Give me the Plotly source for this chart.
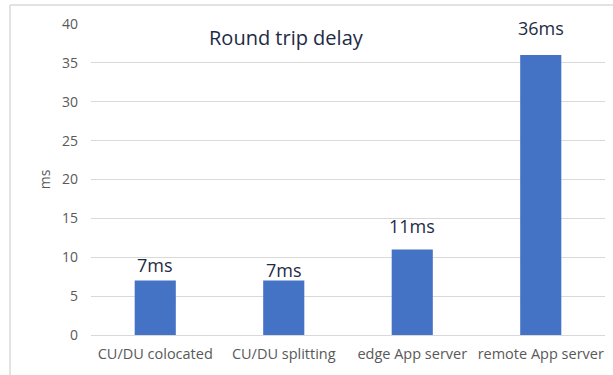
import plotly.graph_objects as go

categories = ["CU/DU colocated", "CU/DU splitting", "edge App server", "remote App server"]
delays_ms = [7, 7, 11, 36]
labels = ["7ms", "7ms", "11ms", "36ms"]
y_ticks = [0, 5, 10, 15, 20, 25, 30, 35, 40]

label_shift = [16, 11, 23, 27]

fig = go.Figure()
fig.add_trace(go.Bar(x=categories, y=delays_ms, marker=dict(color="#4472C4", line=dict(width=0)),
                     hoverinfo="x+y"))

for c, v, t, s in zip(categories, delays_ms, labels, label_shift):
    fig.add_annotation(x=c, y=v, text=t, showarrow=False, yshift=s,
                       xanchor="center", yanchor="middle",
                       font=dict(family="Open Sans", size=18, color="#1e2b45"))

fig.add_annotation(xref="paper", yref="paper", x=0.381, y=0.958, text="Round trip delay",
                   showarrow=False, xanchor="center", yanchor="middle",
                   font=dict(family="Open Sans", size=20, color="#1e2b45"))

# outer frame (top and left edges)
fig.add_shape(type="line", xref="paper", yref="paper", x0=-0.1576, x1=1.02, y0=1.061, y1=1.061,
              line=dict(color="#d9d9d9", width=1.5))
fig.add_shape(type="line", xref="paper", yref="paper", x0=-0.1576, x1=-0.1576, y0=-0.2, y1=1.061,
              line=dict(color="#d9d9d9", width=1.5))

fig.update_layout(
    width=613, height=375,
    margin=dict(l=91, r=8, t=24, b=40, autoexpand=False),
    paper_bgcolor="white", plot_bgcolor="white",
    bargap=0.68,
    showlegend=False,
    font=dict(family="Open Sans", color="#595959", size=14),
)
fig.update_xaxes(showgrid=False, showline=True, linecolor="#d9d9d9", linewidth=1, automargin=False,
                 ticks="", ticklabelstandoff=6, tickfont=dict(size=14.5, color="#595959"))
fig.update_yaxes(range=[0, 40], tickvals=y_ticks, showgrid=True, gridcolor="#d9d9d9", gridwidth=1,
                 zeroline=False, showline=False, ticks="", ticklabelstandoff=12, automargin=False,
                 tickfont=dict(size=14, color="#595959"),
                 title=dict(text="ms", font=dict(size=14, color="#595959"), standoff=8))

fig.write_html("out.html", config={"displayModeBar": False},
               post_script="document.body.style.margin='0';document.body.style.overflow='hidden';")
